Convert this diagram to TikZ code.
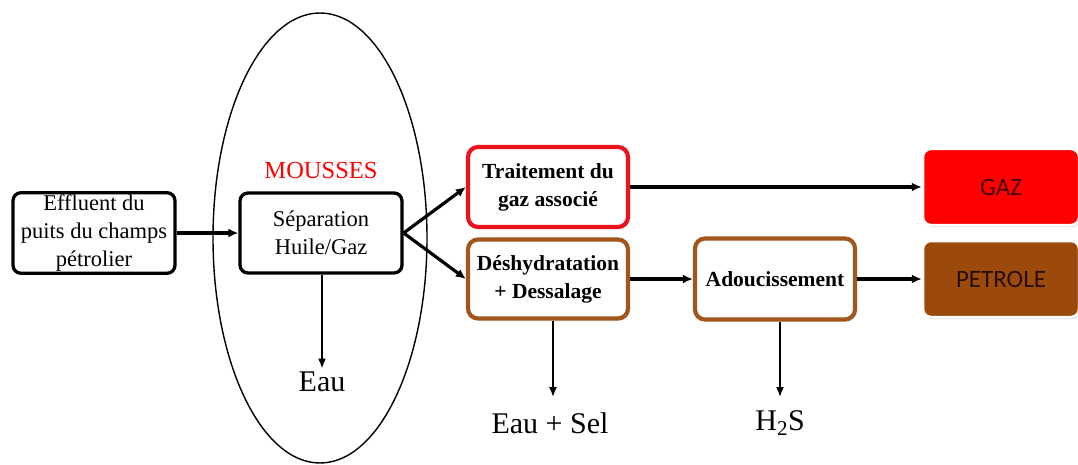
\documentclass[tikz,border=0pt]{standalone}
\usepackage{fontspec}
\setmainfont{Liberation Serif}
\newfontfamily\calib{Carlito}
\usetikzlibrary{arrows.meta,shadows}
\definecolor{brownb}{RGB}{160,86,28}
\definecolor{brownf}{RGB}{155,74,12}
\definecolor{redb}{RGB}{236,20,28}
\tikzset{
  box/.style={draw=black,line width=3.3pt,rounded corners=8pt,align=center,
    font=\fontsize{22.5}{28}\selectfont,inner sep=2pt},
  redbox/.style={draw=redb,line width=4.2pt,rounded corners=10pt,align=center,
    font=\bfseries\fontsize{21.5}{28}\selectfont,fill=white,
    drop shadow={opacity=0.15,shadow xshift=2pt,shadow yshift=-2pt}},
  brownbox/.style={draw=brownb,line width=4.2pt,rounded corners=10pt,align=center,
    font=\bfseries\fontsize{21.5}{28}\selectfont,fill=white,
    drop shadow={opacity=0.15,shadow xshift=2pt,shadow yshift=-2pt}},
  outbox/.style={draw=white,line width=2.5pt,rounded corners=8pt,align=center,
    font=\calib\fontsize{25}{28}\selectfont,
    drop shadow={opacity=0.25,shadow xshift=1.5pt,shadow yshift=-2pt}},
  thick arrow/.style={line width=3.2pt,-{Latex[length=10pt,width=9pt]}},
  thin arrow/.style={line width=1.6pt,-{Latex[length=10pt,width=8pt]}},
  outlabel/.style={font=\fontsize{30}{34}\selectfont}
}
\begin{document}
\begin{tikzpicture}[x=1pt,y=-1pt]
\useasboundingbox (0,0) rectangle (1078,465);
% ellipse
\draw[line width=1.4pt] (320,238) ellipse [x radius=107, y radius=225];
\node[text=red,font=\fontsize{24.5}{28}\selectfont] (mousses) at (321,171) {MOUSSES};
% boxes
\node[box,minimum width=162pt,minimum height=80pt] (eff) at (94,233)
  {Effluent du\\puits du champs\\pétrolier};
\node[box,minimum width=162pt,minimum height=80pt] (sep) at (321,233)
  {Séparation\\Huile/Gaz};
\node[redbox,minimum width=160pt,minimum height=80pt] (trait) at (548,187)
  {Traitement du\\gaz associé};
\node[brownbox,minimum width=160pt,minimum height=79pt] (desh) at (548,279)
  {Déshydratation\\+ Dessalage};
\node[brownbox,minimum width=160pt,minimum height=81pt] (adou) at (775,279)
  {Adoucissement};
\node[outbox,fill=red,text={rgb,255:red,70;green,0;blue,0},minimum width=156pt,minimum height=76pt] (gaz) at (1001,187) {GAZ};
\node[outbox,fill=brownf,text={rgb,255:red,40;green,15;blue,0},minimum width=156pt,minimum height=76pt] (pet) at (1001,279) {PETROLE};
% outputs
\node[outlabel] (eau) at (322,382) {Eau};
\node[outlabel] (eausel) at (550,423) {Eau + Sel};
\node[outlabel] (h2s) at (780,423) {H\textsubscript{2}S};
% arrows
\draw[thick arrow] (eff.east) -- (sep.west);
\draw[thick arrow] (sep.east) -- (trait.west);
\draw[thick arrow] (sep.east) -- (desh.west);
\draw[thick arrow] (trait.east) -- (gaz.west);
\draw[thick arrow] (desh.east) -- (adou.west);
\draw[thick arrow] (adou.east) -- (pet.west);
\draw[thin arrow] (sep.south -| eau) -- (eau.north);
\draw[thin arrow] (desh.south -| 553,0) -- (553,397) coordinate (dt);
\draw[thin arrow] (adou.south -| h2s) -- (780,397) coordinate (ht);
\end{tikzpicture}
\end{document}
